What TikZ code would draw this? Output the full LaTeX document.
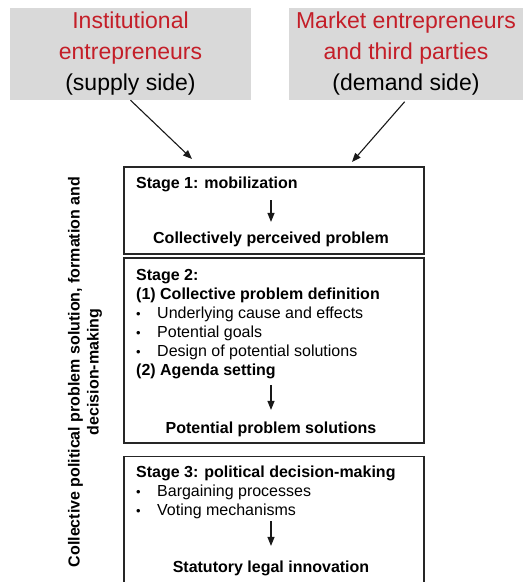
\documentclass[tikz,border=0pt]{standalone}
\usepackage{fontspec}
\setmainfont{Liberation Sans}
\usetikzlibrary{arrows.meta,positioning}
\definecolor{actorred}{RGB}{196,30,40}
\definecolor{actorgray}{RGB}{217,217,217}
\newcommand{\stagebullet}{\makebox[21pt][l]{\fontsize{13}{13}\selectfont\textbullet}}
\begin{document}
\begin{tikzpicture}[x=1pt,y=-1pt,
		actor/.style={fill=actorgray,minimum height=92pt,inner sep=0pt,align=center,
				font=\fontsize{23}{31}\selectfont},
		stage/.style={draw=black!85,line width=1.2pt,minimum width=300pt,inner sep=0pt},
		stagetext/.style={anchor=north west,align=left,inner sep=0pt,
				font=\fontsize{16}{19}\selectfont},
		result/.style={anchor=base,inner sep=0pt,font=\fontsize{16}{19}\selectfont\bfseries},
		flow/.style={-{Triangle[length=9pt,width=7pt]},line width=1.1pt,draw=black!90}]
	\clip (0,0) rectangle (523,582);
	% actors on top
	\node[actor,minimum width=241pt] (supply) at (130.5,54)
	{\textcolor{actorred}{Institutional}\\\textcolor{actorred}{entrepreneurs}\\(supply side)};
	\node[actor,minimum width=234pt] (demand) at (406,54)
	{\textcolor{actorred}{Market entrepreneurs}\\\textcolor{actorred}{and third parties}\\(demand side)};
	% the three stages
	\node[stage,minimum height=87pt] (st1) at (274,210.5) {};
	\node[stage,minimum height=185pt] (st2) at (274,350.5) {};
	\node[stage,minimum height=140pt,anchor=north] (st3) at (274,456) {};
	\coordinate (in1) at (192,159);
	\coordinate (in2) at (352,162);
	\draw[flow] (supply.south) -- (in1);
	\draw[flow,shorten <=2pt] (demand.south) -- (in2);
	% stage 1
	\node[stagetext,font=\fontsize{16}{19}\selectfont\bfseries] (mob) at (136,177) {Stage 1: mobilization};
	\node[result] (prob) at (271,243.7) {Collectively perceived problem};
	\draw[flow,shorten <=8pt,shorten >=10pt] (mob.south -| prob.north) -- (prob.north);
	% stage 2
	\node[stagetext] (def) at (136,269) {\textbf{Stage 2:}\\
		\textbf{(1) Collective problem definition}\\
		\stagebullet Underlying cause and effects\\
		\stagebullet Potential goals\\
		\stagebullet Design of potential solutions\\
		\textbf{(2) Agenda setting}};
	\node[result] (sol) at (271,433.7) {Potential problem solutions};
	\draw[flow,shorten <=6pt,shorten >=12pt] (def.south -| sol.north) -- (sol.north);
	% stage 3
	\node[stagetext] (dec) at (136,466) {\textbf{Stage 3: political decision-making}\\
		\stagebullet Bargaining processes\\
		\stagebullet Voting mechanisms};
	\node[result] (law) at (271,572.7) {Statutory legal innovation};
	\draw[flow,shorten <=2pt,shorten >=15pt] (dec.south -| law.north) -- (law.north);
	% side label
	\node[rotate=90,align=center,inner sep=0pt,font=\fontsize{16}{19}\selectfont\bfseries]
	(side) at (85,372) {Collective political problem solution, formation and\\decision-making};
\end{tikzpicture}
\end{document}
